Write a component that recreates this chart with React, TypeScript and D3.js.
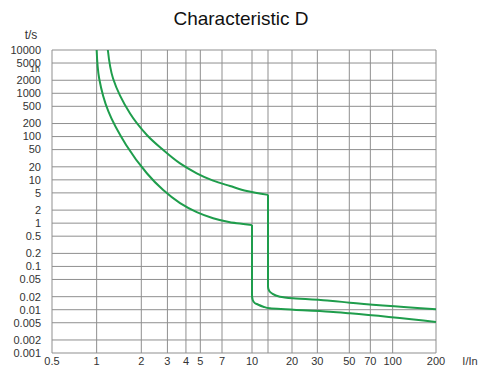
import { useEffect, useRef } from "react"
import * as d3 from "d3"

// current multiples (I/In) where the vertical grid lines sit
const xTicks = [0.5, 1, 2, 3, 4, 5, 7, 10, 14, 20, 30, 50, 70, 100, 200]
const xTickLabels = ["0.5", "1", "2", "3", "4", "5", "7", "10", "", "20", "30", "50", "70", "100", "200"]

// trip times (s) for the horizontal grid lines
const yTicks = [10000, 5000, 2000, 1000, 500, 200, 100, 50, 20, 10, 5, 2, 1, 0.5, 0.2, 0.1, 0.05, 0.02, 0.01, 0.005, 0.002, 0.001]
const yTickLabels = ["10000", "5000", "2000", "1000", "500", "200", "100", "50", "20", "10", "5", "2", "1", "0.5", "0.2", "0.1", "0.05", "0.02", "0.01", "0.005", "0.002", "0.001"]

// lower band: thermal part, then magnetic drop at 10 In and the tail
const lowerThermal: [number, number][] = [
  [1.0, 10000], [1.04, 2200], [1.2, 380], [1.58, 64], [2.18, 14.2], [2.81, 5.8],
  [3.65, 2.9], [4.73, 1.8], [6.1, 1.3], [7.7, 1.05], [10, 0.9],
]
const lowerTail: [number, number][] = [
  [10, 0.9], [10, 0.022], [10.15, 0.0168], [10.65, 0.0141], [11.04, 0.01355],
  [12.68, 0.01175], [14.4, 0.0108], [36.7, 0.009], [50.5, 0.00826], [200, 0.0052],
]

// upper band: thermal part, then magnetic drop at 14 In and the tail
const upperThermal: [number, number][] = [
  [1.19, 10000], [1.29, 2200], [1.68, 340], [2.18, 109], [2.81, 49], [3.65, 24],
  [4.73, 14.2], [6.1, 9.6], [7.7, 7.2], [9.4, 5.5], [14, 4.5],
]
const upperTail: [number, number][] = [
  [14, 4.5], [14, 0.034], [14.27, 0.0271], [14.8, 0.024], [16.7, 0.02],
  [20.3, 0.0184], [36.7, 0.0162], [50.5, 0.0145], [200, 0.0102],
]

export default function App() {
  const svgRef = useRef<SVGSVGElement>(null)

  useEffect(() => {
    if (!svgRef.current) return
    const svg = d3.select(svgRef.current)
    svg.selectAll("*").remove()

    const left = 52
    const right = 436
    const top = 50
    const bottom = 353

    // the printed grid is not quite uniform, so the log scale is piecewise
    const x = d3
      .scaleLog()
      .domain([0.5, 7, 10, 14, 20, 200])
      .range([left, 222, 252, 268, 292, right])
    const y = d3.scaleLog().domain([0.001, 10000]).range([bottom, top])

    const font = "'Liberation Sans', Arial, sans-serif"
    const gridColor = "#8f8f8f"

    // title
    svg.append("text")
      .attr("x", 241)
      .attr("y", 25)
      .attr("text-anchor", "middle")
      .style("font-family", font)
      .style("font-size", "19px")
      .style("fill", "#111")
      .text("Characteristic D")

    const grid = svg.append("g").attr("stroke", gridColor).attr("stroke-width", 1)

    grid.selectAll(".h")
      .data(yTicks)
      .enter()
      .append("line")
      .attr("x1", left)
      .attr("x2", right)
      .attr("y1", (d) => y(d))
      .attr("y2", (d) => y(d))

    grid.selectAll(".v")
      .data(xTicks)
      .enter()
      .append("line")
      .attr("x1", (d) => x(d))
      .attr("x2", (d) => x(d))
      .attr("y1", top)
      .attr("y2", bottom)

    // y labels
    svg.append("g")
      .selectAll("text")
      .data(yTicks)
      .enter()
      .append("text")
      .attr("x", 41)
      .attr("y", (d) => y(d))
      .attr("dy", "0.35em")
      .attr("text-anchor", "end")
      .style("font-family", font)
      .style("font-size", "11px")
      .style("fill", "#333")
      .text((_, i) => yTickLabels[i])

    // 1 hour marker squeezed between 5000 and 2000
    svg.append("text")
      .attr("x", 40)
      .attr("y", y(3600))
      .attr("dy", "0.3em")
      .attr("text-anchor", "end")
      .style("font-family", font)
      .style("font-size", "9px")
      .style("fill", "#333")
      .text("1h")

    svg.append("text")
      .attr("x", 31)
      .attr("y", 39)
      .attr("text-anchor", "middle")
      .style("font-family", font)
      .style("font-size", "12px")
      .style("fill", "#333")
      .text("t/s")

    // x labels
    svg.append("g")
      .selectAll("text")
      .data(xTicks)
      .enter()
      .append("text")
      .attr("x", (d) => x(d))
      .attr("y", 365)
      .attr("text-anchor", "middle")
      .style("font-family", font)
      .style("font-size", "11px")
      .style("fill", "#333")
      .text((_, i) => xTickLabels[i])

    svg.append("text")
      .attr("x", 470)
      .attr("y", 365)
      .attr("text-anchor", "middle")
      .style("font-family", font)
      .style("font-size", "11px")
      .style("fill", "#333")
      .text("I/In")

    // curves
    const thermalLine = d3
      .line<[number, number]>()
      .x((d) => x(d[0]))
      .y((d) => y(d[1]))
      .curve(d3.curveCatmullRom.alpha(0.5))
    const tailLine = d3
      .line<[number, number]>()
      .x((d) => x(d[0]))
      .y((d) => y(d[1]))
      .curve(d3.curveMonotoneY)

    const curves = svg.append("g")
      .attr("fill", "none")
      .attr("stroke", "#1f9d4c")
      .attr("stroke-width", 2)
      .attr("stroke-linejoin", "round")

    curves.append("path").attr("d", thermalLine(lowerThermal))
    curves.append("path").attr("d", tailLine(lowerTail))
    curves.append("path").attr("d", thermalLine(upperThermal))
    curves.append("path").attr("d", tailLine(upperTail))
  }, [])

  return (
    <svg
      ref={svgRef}
      width={481}
      height={367}
      style={{ position: "absolute", left: 0, top: 0, background: "#fff" }}
    />
  )
}
